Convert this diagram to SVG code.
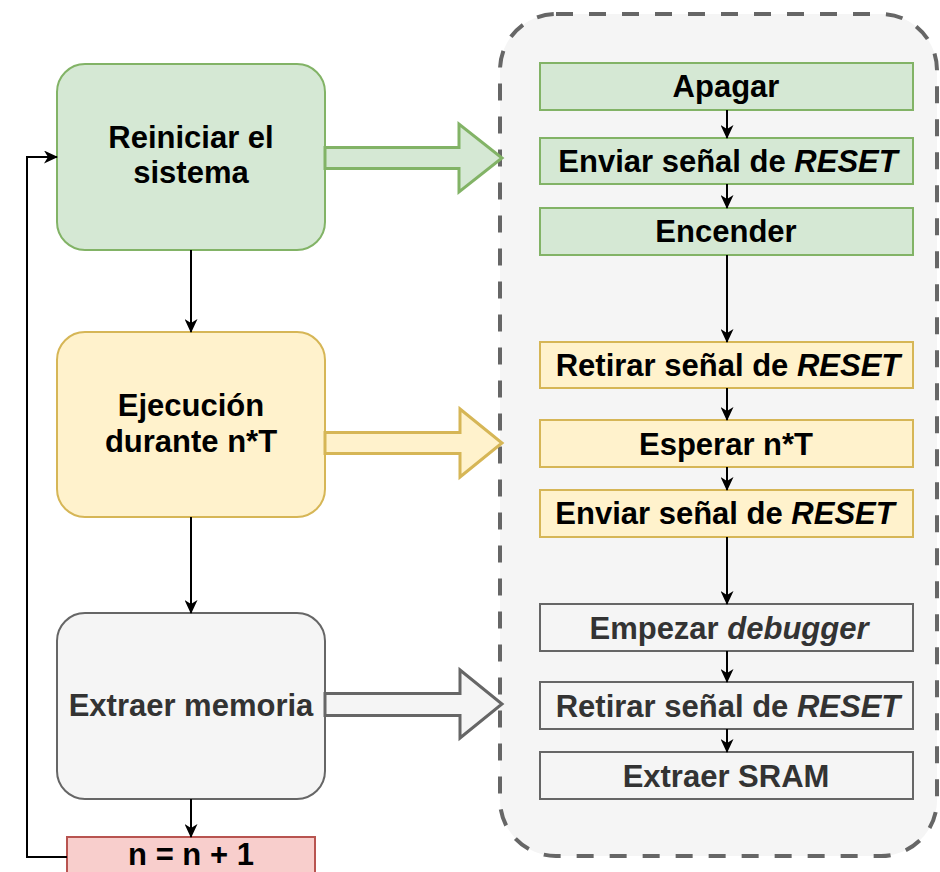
<svg xmlns="http://www.w3.org/2000/svg" width="940" height="872" viewBox="0 0 940 872">
  <style>
    text { font-family: "Liberation Sans", Arial, Helvetica, sans-serif; font-weight: bold; font-size: 31px; text-anchor: middle; fill: #000; }
    .it { font-style: italic; }
    .grey-text { fill: #333333; }
    .green { fill: #d5e8d4; stroke: #82b366; }
    .yellow { fill: #fff2cc; stroke: #d6b656; }
    .grey { fill: #f5f5f5; stroke: #666666; }
    .red { fill: #f8cecc; stroke: #b85450; }
    .main { stroke-width: 2; }
    .step { stroke-width: 2; }
    .flow { fill: none; stroke: #000; stroke-width: 2; marker-end: url(#head); }
    .block { stroke-width: 3; stroke-linejoin: miter; }
  </style>
  <defs>
    <marker id="head" viewBox="0 0 14 13" refX="13" refY="6.5" markerWidth="14" markerHeight="13" markerUnits="userSpaceOnUse" orient="auto">
      <path d="M0,0 L14,6.5 L0,13 L4,6.5 z" fill="#000"/>
    </marker>
  </defs>

  <!-- dashed container for the detailed steps -->
  <g id="detail-panel">
    <rect x="500" y="14" width="437" height="842" rx="56" ry="56" fill="#f5f5f5" stroke="#666666" stroke-width="4" stroke-dasharray="17 16"/>
  </g>

  <!-- main loop -->
  <g id="reiniciar">
    <rect class="green main" x="57" y="64" width="268" height="186" rx="28" ry="28"/>
    <text x="191" y="148">Reiniciar el</text>
    <text x="191" y="183">sistema</text>
  </g>
  <g id="ejecucion">
    <rect class="yellow main" x="57" y="332" width="268" height="185" rx="28" ry="28"/>
    <text x="191" y="416">Ejecución</text>
    <text x="191" y="452">durante n*T</text>
  </g>
  <g id="extraer-memoria">
    <rect class="grey main" x="57" y="613" width="268" height="186" rx="28" ry="28"/>
    <text class="grey-text" x="191" y="716">Extraer memoria</text>
  </g>
  <g id="incremento">
    <rect class="red main" x="67" y="837" width="248" height="50"/>
    <text x="191" y="865">n = n + 1</text>
  </g>

  <!-- detailed steps -->
  <g id="apagar">
    <rect class="green step" x="540" y="63" width="373" height="47"/>
    <text x="726" y="97">Apagar</text>
  </g>
  <g id="enviar-reset-1">
    <rect class="green step" x="540" y="138" width="373" height="46"/>
    <text x="728" y="172">Enviar señal de <tspan class="it">RESET</tspan></text>
  </g>
  <g id="encender">
    <rect class="green step" x="540" y="208" width="373" height="47"/>
    <text x="726" y="242">Encender</text>
  </g>
  <g id="retirar-reset-1">
    <rect class="yellow step" x="540" y="342" width="373" height="46"/>
    <text x="728" y="376">Retirar señal de <tspan class="it">RESET</tspan></text>
  </g>
  <g id="esperar">
    <rect class="yellow step" x="540" y="420" width="373" height="47"/>
    <text x="726" y="455">Esperar n*T</text>
  </g>
  <g id="enviar-reset-2">
    <rect class="yellow step" x="540" y="490" width="373" height="47"/>
    <text x="725" y="524">Enviar señal de <tspan class="it">RESET</tspan></text>
  </g>
  <g id="empezar-debugger">
    <rect class="grey step" x="540" y="604" width="373" height="47"/>
    <text class="grey-text" x="729" y="639">Empezar <tspan class="it">debugger</tspan></text>
  </g>
  <g id="retirar-reset-2">
    <rect class="grey step" x="540" y="682" width="373" height="47"/>
    <text class="grey-text" x="728" y="717">Retirar señal de <tspan class="it">RESET</tspan></text>
  </g>
  <g id="extraer-sram">
    <rect class="grey step" x="540" y="752" width="373" height="47"/>
    <text class="grey-text" x="726" y="787">Extraer SRAM</text>
  </g>

  <!-- connectors -->
  <g id="connectors">
    <!-- block arrows from each phase to its steps -->
    <path class="green block" d="M325,147.5 L459,147.5 L459,124 L502,158 L459,192 L459,168.5 L325,168.5 Z"/>
    <path class="yellow block" d="M325,432.5 L460,432.5 L460,409 L502,443 L460,477 L460,453.5 L325,453.5 Z"/>
    <path class="grey block" d="M325,693.5 L460,693.5 L460,670 L502,704 L460,738 L460,715.5 L325,715.5 Z"/>

    <!-- main loop flow -->
    <line class="flow" x1="191" y1="250" x2="191" y2="332"/>
    <line class="flow" x1="191" y1="517" x2="191" y2="613"/>
    <line class="flow" x1="191" y1="799" x2="191" y2="837"/>
    <polyline class="flow" points="67,857 27,857 27,157 57,157"/>

    <!-- step flow -->
    <line class="flow" x1="727" y1="110" x2="727" y2="138"/>
    <line class="flow" x1="727" y1="184" x2="727" y2="208"/>
    <line class="flow" x1="727" y1="255" x2="727" y2="342"/>
    <line class="flow" x1="727" y1="388" x2="727" y2="420"/>
    <line class="flow" x1="727" y1="467" x2="727" y2="490"/>
    <line class="flow" x1="727" y1="537" x2="727" y2="604"/>
    <line class="flow" x1="727" y1="651" x2="727" y2="682"/>
    <line class="flow" x1="727" y1="729" x2="727" y2="752"/>
  </g>
</svg>
